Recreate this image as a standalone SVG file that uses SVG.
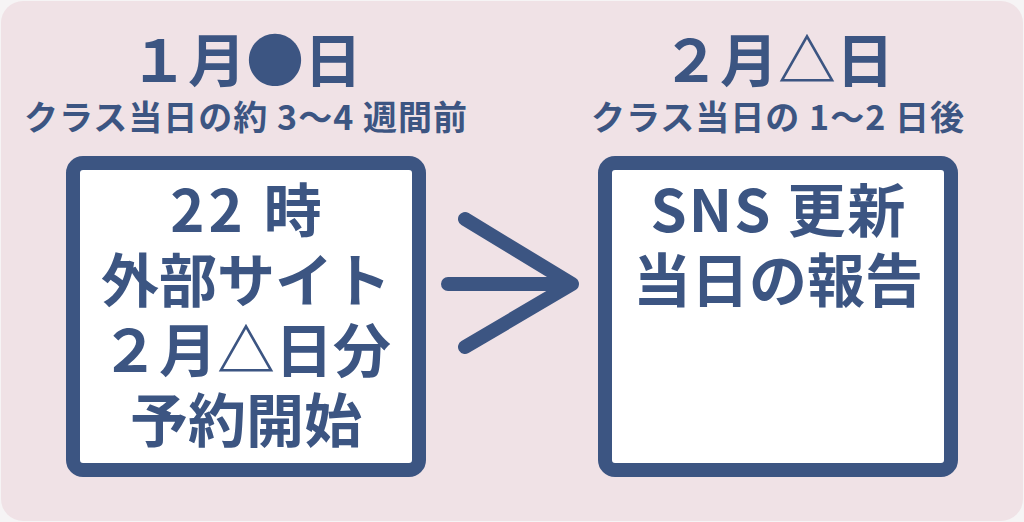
<svg xmlns="http://www.w3.org/2000/svg" width="1024" height="522" viewBox="0 0 1024 522">
<style>
.t{font-family:"Noto Sans CJK JP","Noto Sans",sans-serif;font-weight:700;fill:#3c5582;text-anchor:middle}
.big{font-size:58px}
.sub{font-size:34px;letter-spacing:1px}
.wide{letter-spacing:4px}
.box{fill:#ffffff;stroke:#3c5582;stroke-width:14}
.arrow{fill:none;stroke:#3c5582;stroke-width:14;stroke-linecap:round;stroke-linejoin:round}
</style>
<rect x="0" y="0" width="1024" height="522" fill="#f6f4f5"/>
<rect id="background" x="1" y="1" width="1022" height="520" rx="22" fill="#f0e2e6"/>
<g id="left">
<text class="t big" x="246" y="82">１月●日</text>
<text class="t sub" x="246" y="130">クラス当日の約 3〜4 週間前</text>
<rect class="box" x="73" y="163" width="346" height="307" rx="10"/>
<text class="t big wide" x="248" y="232">22 時</text>
<text class="t big" x="246" y="302">外部サイト</text>
<text class="t big" x="246" y="372">２月△日分</text>
<text class="t big" x="246" y="442">予約開始</text>
</g>
<g id="right">
<text class="t big" x="778" y="82">２月△日</text>
<text class="t sub" x="778" y="130">クラス当日の 1〜2 日後</text>
<rect class="box" x="605" y="163" width="346" height="307" rx="10"/>
<text class="t big" x="779" y="232" letter-spacing="2">SNS 更新</text>
<text class="t big" x="778" y="302">当日の報告</text>
</g>
<g id="connectors">
<path class="arrow" d="M448 284 H572 M465 219 L572 284 L465 347"/>
</g>
</svg>
